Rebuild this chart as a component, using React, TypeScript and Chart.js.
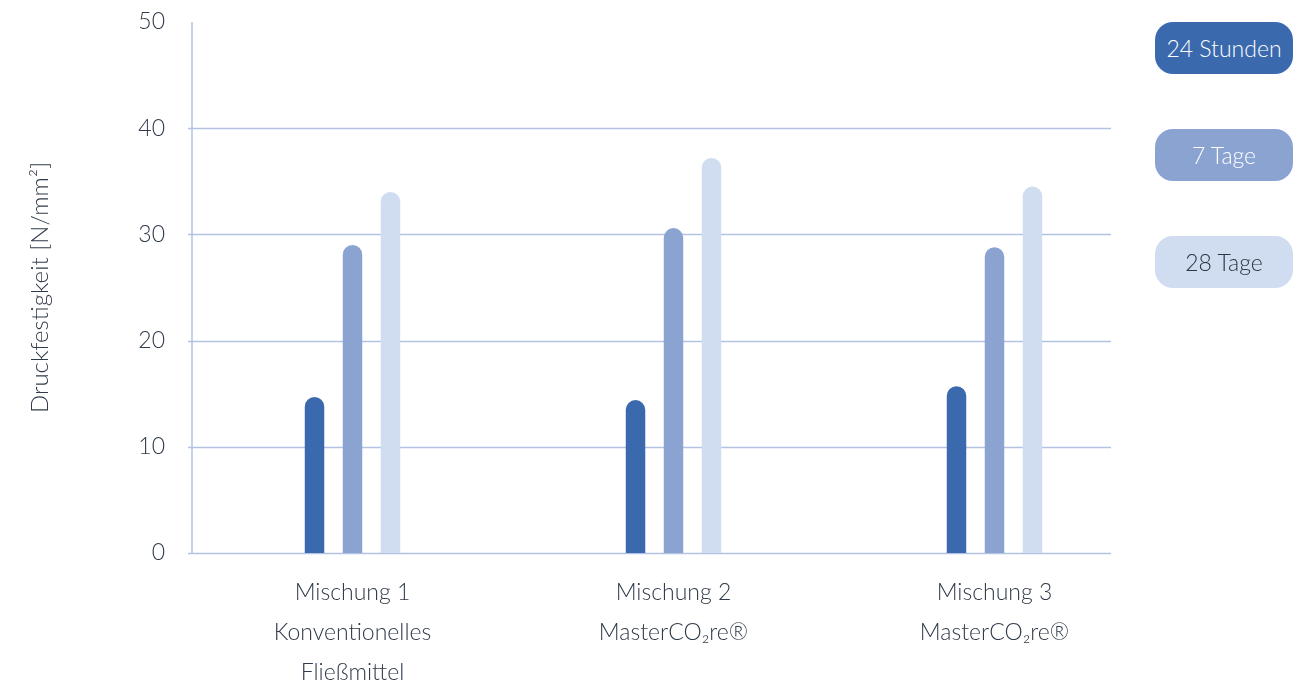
import React, { useEffect, useRef } from "react";
import { Chart, registerables } from "chart.js";

Chart.register(...registerables);

const categories: string[][] = [
  ["Mischung 1", "Konventionelles", "Fließmittel"],
  ["Mischung 2", "MasterCO₂re®"],
  ["Mischung 3", "MasterCO₂re®"],
];
const seriesLabels = ["24 Stunden", "7 Tage", "28 Tage"];
const h24 = [14.7, 14.4, 15.7];
const d7 = [29.0, 30.6, 28.8];
const d28 = [34.0, 37.2, 34.5];
const colors = ["#3A69AE", "#8AA3D1", "#D0DCEF"];
const legendText = ["#ffffff", "#ffffff", "#2b3647"];
const yTicks = [0, 10, 20, 30, 40, 50];

const FONT = "Lato, 'Open Sans', sans-serif";
const TEXT = "#2f3a4a";
const GRID = "#b3c2e3";

const gridPlugin = {
  id: "customGrid",
  beforeDatasetsDraw(chart: any) {
    const { ctx, chartArea, scales } = chart;
    const y = scales.y;
    const right = 1111;
    ctx.save();
    ctx.strokeStyle = GRID;
    ctx.lineWidth = 1.5;
    ctx.beginPath();
    ctx.moveTo(chartArea.left, y.getPixelForValue(50));
    ctx.lineTo(chartArea.left, y.getPixelForValue(0));
    ctx.stroke();
    for (const v of yTicks) {
      if (v === 50) continue;
      const py = Math.round(y.getPixelForValue(v)) + 0.5;
      ctx.beginPath();
      ctx.moveTo(chartArea.left - 4, py);
      ctx.lineTo(right, py);
      ctx.stroke();
    }
    ctx.restore();
  },
};

export default function App() {
  const ref = useRef<HTMLCanvasElement>(null);
  useEffect(() => {
    if (!ref.current) return;
    const data = [h24, d7, d28];
    const chart = new Chart(ref.current, {
      type: "bar",
      data: {
        labels: categories as any,
        datasets: seriesLabels.map((label, i) => ({
          label,
          data: data[i],
          backgroundColor: colors[i],
          borderWidth: 0,
          borderRadius: 10,
          borderSkipped: "start",
          barPercentage: 0.513,
          categoryPercentage: 0.355,
        })),
      },
      options: {
        animation: false,
        responsive: false,
        maintainAspectRatio: false,
        layout: { padding: { top: 22, right: 161, left: 0, bottom: 0 } },
        plugins: { legend: { display: false }, tooltip: { enabled: false } },
        scales: {
          x: {
            grid: { display: false, drawTicks: false },
            border: { display: false },
            ticks: {
              padding: 20,
              color: TEXT,
              font: { family: FONT, size: 23, weight: "300" as any, lineHeight: 40 / 23 },
              maxRotation: 0,
            },
            afterFit: (s: any) => {
              s.height = 137;
              s.paddingLeft = 0;
              s.paddingRight = 0;
            },
          },
          y: {
            min: 0,
            max: 50,
            afterBuildTicks: (s: any) => {
              s.ticks = yTicks.map((v) => ({ value: v }));
            },
            grid: { display: false, drawTicks: false },
            border: { display: false },
            ticks: {
              padding: 27,
              color: TEXT,
              font: { family: FONT, size: 23, weight: "300" as any },
            },
            title: {
              display: true,
              text: "Druckfestigkeit [N/mm²]",
              color: TEXT,
              padding: { top: 26, bottom: 0 },
              font: { family: FONT, size: 24, weight: "300" as any },
            },
            afterFit: (s: any) => {
              s.width = 192;
              s.paddingTop = 0;
              s.paddingBottom = 0;
            },
          },
        },
      },
      plugins: [gridPlugin],
    });
    return () => chart.destroy();
  }, []);

  return (
    <div style={{ position: "absolute", left: 0, top: 0, width: 1316, height: 690, background: "#fff" }}>
      <canvas ref={ref} width={1316} height={690} style={{ width: 1316, height: 690, display: "block" }} />
      {seriesLabels.map((label, i) => (
        <div
          key={label}
          style={{
            position: "absolute",
            left: 1155,
            top: 22 + i * 107,
            width: 138,
            height: 52,
            borderRadius: 18,
            background: colors[i],
            color: legendText[i],
            fontFamily: FONT,
            fontWeight: 300,
            fontSize: 23,
            display: "flex",
            alignItems: "center",
            justifyContent: "center",
          }}
        >
          {label}
        </div>
      ))}
    </div>
  );
}
